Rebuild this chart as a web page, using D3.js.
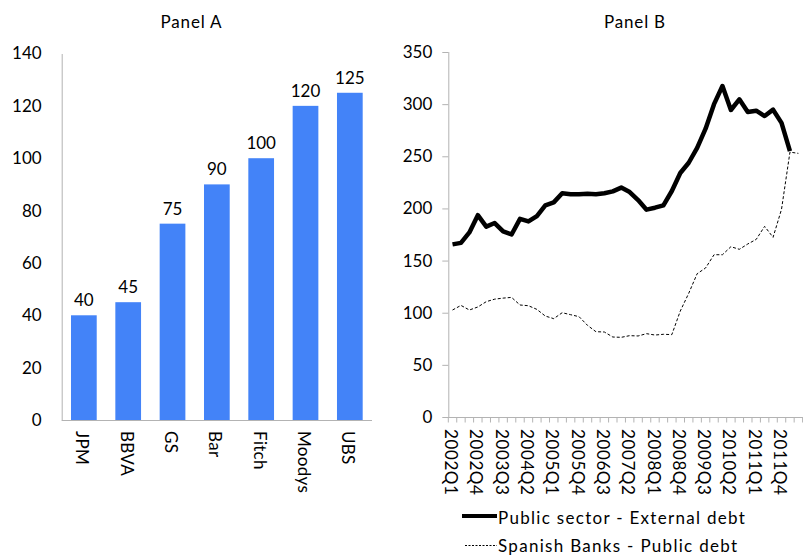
<!DOCTYPE html>
<html>
<head>
<meta charset="utf-8">
<script src="https://cdn.jsdelivr.net/npm/d3@7"></script>
<style>
  html, body { margin: 0; padding: 0; background: #fff; }
  svg { display: block; font-family: "Lato", "Open Sans", sans-serif; }
</style>
</head>
<body>
<svg id="chart" width="803" height="556"></svg>
<script>
// ---- Panel A data ----
const banks = ["JPM", "BBVA", "GS", "Bar", "Fitch", "Moodys", "UBS"];
const bankValues = [40, 45, 75, 90, 100, 120, 125];
const panelATicks = [0, 20, 40, 60, 80, 100, 120, 140];

// ---- Panel B data ----
const quarters = [
  "2002Q1","2002Q2","2002Q3","2002Q4","2003Q1","2003Q2","2003Q3","2003Q4",
  "2004Q1","2004Q2","2004Q3","2004Q4","2005Q1","2005Q2","2005Q3","2005Q4",
  "2006Q1","2006Q2","2006Q3","2006Q4","2007Q1","2007Q2","2007Q3","2007Q4",
  "2008Q1","2008Q2","2008Q3","2008Q4","2009Q1","2009Q2","2009Q3","2009Q4",
  "2010Q1","2010Q2","2010Q3","2010Q4","2011Q1","2011Q2","2011Q3","2011Q4",
  "2012Q1","2012Q2"
];
const publicExternal = [
  165.5, 167, 177, 193.5, 182.5, 186, 178, 175, 190, 187.5,
  192.7, 203, 205.8, 214.5, 213.5, 213.5, 214, 213.5, 214.5, 216.4,
  220, 215.7, 208, 198.8, 200.7, 203, 216.7, 234, 243.8, 258,
  276.5, 300, 317.4, 294.4, 304.6, 292.4, 293.7, 288.6, 294.7, 282,
  255
];
const banksPublic = [
  102.6, 107, 102.6, 105.5, 110.6, 113, 114, 114.7, 107.4, 106.7,
  103.2, 96.8, 94.3, 100, 98.1, 96.2, 87.9, 81.8, 81.5, 76.7,
  76.4, 78, 77.7, 79.9, 78.6, 79.3, 79, 101.6, 118.6, 137.4,
  142.9, 155.6, 155.6, 163.3, 160.8, 165.9, 170.3, 182.8, 172.3, 199.1,
  254, 252.8
];
const panelBTicks = [0, 50, 100, 150, 200, 250, 300, 350];
const seriesNames = ["Public sector - External debt", "Spanish Banks - Public debt"];

const svg = d3.select("#chart");
const FONT = 17;
const axisGray = "#b3b3b3";

// ================= Panel A =================
const xA = d3.scaleBand().domain(banks).range([61.7, 372]).paddingInner(0.42).paddingOuter(0.21);
const yA = d3.scaleLinear().domain([0, 140]).range([420, 53.5]);

const gA = svg.append("g");
gA.append("text").attr("x", 191.5).attr("y", 28).attr("text-anchor", "middle")
  .attr("font-size", 17).attr("letter-spacing", 0.8).attr("fill", "#000").text("Panel A");

// y axis
const yAxisA = gA.append("g").attr("transform", "translate(61.7,0)")
  .call(d3.axisLeft(yA).tickValues(panelATicks).tickSize(0).tickPadding(20));
yAxisA.select(".domain").attr("stroke", axisGray);
yAxisA.selectAll("text").attr("font-size", FONT).attr("font-family", "Lato").attr("fill", "#000");

// bars
gA.selectAll("rect.bar").data(banks).enter().append("rect")
  .attr("class", "bar")
  .attr("x", d => xA(d))
  .attr("width", xA.bandwidth())
  .attr("y", (d, i) => yA(bankValues[i]))
  .attr("height", (d, i) => yA(0) - yA(bankValues[i]))
  .attr("fill", "#4383F8");

// value labels
gA.selectAll("text.val").data(banks).enter().append("text")
  .attr("class", "val")
  .attr("x", d => xA(d) + xA.bandwidth() / 2)
  .attr("y", (d, i) => yA(bankValues[i]) - 9)
  .attr("text-anchor", "middle").attr("font-size", FONT).attr("fill", "#000")
  .text((d, i) => bankValues[i]);

// x axis
const xAxisA = gA.append("g").attr("transform", "translate(0,420)")
  .call(d3.axisBottom(xA).tickSize(0).tickPadding(0));
xAxisA.select(".domain").attr("stroke", axisGray).attr("d", "M61.7,0.5H372");
xAxisA.selectAll("text")
  .attr("font-size", FONT).attr("font-family", "Lato").attr("fill", "#000")
  .attr("letter-spacing", 0.3)
  .attr("text-anchor", "start")
  .attr("transform", "translate(-1.5,11) rotate(90)")
  .attr("x", 0).attr("y", 0).attr("dy", "0.35em");

// ================= Panel B =================
const xB = d3.scaleBand().domain(quarters).range([448.3, 802.6]).padding(0);
const yB = d3.scaleLinear().domain([0, 350]).range([417, 52]);
const cx = q => xB(q) + xB.bandwidth() / 2;

const gB = svg.append("g");
gB.append("text").attr("x", 635).attr("y", 28).attr("text-anchor", "middle")
  .attr("font-size", 17).attr("letter-spacing", 0.8).attr("fill", "#000").text("Panel B");

const yAxisB = gB.append("g").attr("transform", "translate(448.3,0)")
  .call(d3.axisLeft(yB).tickValues(panelBTicks).tickSize(6).tickPadding(10));
yAxisB.select(".domain").attr("stroke", axisGray).attr("d", "M0.5,52V417");
yAxisB.selectAll("line").attr("stroke", axisGray);
yAxisB.selectAll("text").attr("font-size", FONT).attr("font-family", "Lato").attr("fill", "#000");

// x axis baseline and tick marks at category boundaries
const xAxisB = gB.append("g").attr("transform", "translate(0,417)");
xAxisB.append("line").attr("x1", 448.3).attr("x2", 802.6).attr("y1", 0.5).attr("y2", 0.5)
  .attr("stroke", axisGray);
const boundaries = quarters.map(q => xB(q)).concat([xB.range()[1]]);
xAxisB.selectAll("line.tk").data(boundaries).enter().append("line")
  .attr("class", "tk")
  .attr("x1", d => d).attr("x2", d => d).attr("y1", 0).attr("y2", 5.5)
  .attr("stroke", axisGray);
const labelQuarters = quarters.filter((q, i) => i % 3 === 0);
xAxisB.selectAll("text.ql").data(labelQuarters).enter().append("text")
  .attr("class", "ql")
  .attr("transform", d => `translate(${cx(d) - 1.5},12) rotate(90)`)
  .attr("dy", "0.35em")
  .attr("letter-spacing", 0.6)
  .attr("font-size", FONT).attr("fill", "#000")
  .text(d => d);

// lines
const lineGen = d3.line().x(d => cx(d.q)).y(d => yB(d.v));
const pubData = publicExternal.map((v, i) => ({ q: quarters[i], v }));
const bankData = banksPublic.map((v, i) => ({ q: quarters[i], v }));

gB.append("path").datum(bankData).attr("d", lineGen)
  .attr("fill", "none").attr("stroke", "#000").attr("stroke-width", 1)
  .attr("stroke-dasharray", "3,2");
gB.append("path").datum(pubData).attr("d", lineGen)
  .attr("fill", "none").attr("stroke", "#000").attr("stroke-width", 4.5)
  .attr("stroke-linejoin", "round");

// legend
const legend = svg.append("g");
legend.append("line").attr("x1", 462).attr("x2", 497).attr("y1", 516).attr("y2", 516)
  .attr("stroke", "#000").attr("stroke-width", 4);
legend.append("text").attr("x", 498).attr("y", 523.5).attr("font-size", FONT)
  .attr("letter-spacing", 1.3).attr("fill", "#000")
  .text(seriesNames[0]);
legend.append("line").attr("x1", 465).attr("x2", 497).attr("y1", 545.5).attr("y2", 545.5)
  .attr("stroke", "#000").attr("stroke-width", 1).attr("stroke-dasharray", "2,1.5");
legend.append("text").attr("x", 498).attr("y", 552).attr("font-size", FONT)
  .attr("letter-spacing", 1.3).attr("fill", "#000")
  .text(seriesNames[1]);
</script>
</body>
</html>
